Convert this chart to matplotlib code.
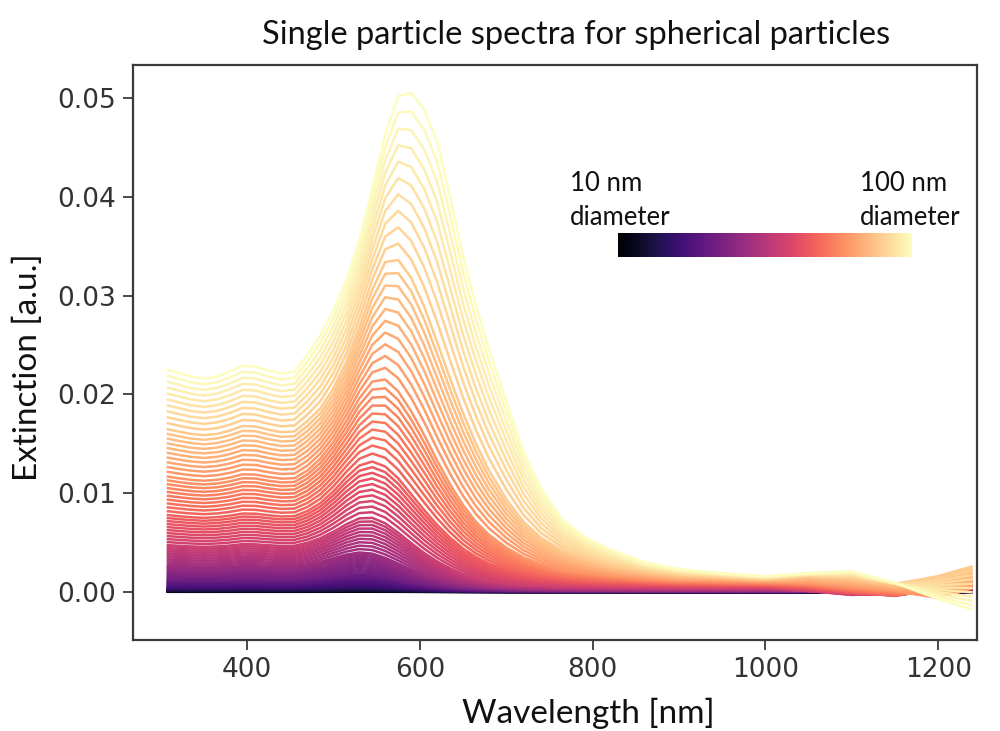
import matplotlib.pyplot as plt
import numpy as np
from matplotlib import cm, colors

plt.rcParams['font.family'] = 'DejaVu Sans'

# wavelengths sampled along each spectrum (nm)
wavelength = [307, 320, 335, 350, 365, 380, 395, 410, 425, 440, 455,
              470, 485, 500, 515, 530, 545, 560, 575, 590, 605,
              620, 635, 650, 665, 680, 700, 720, 740, 765, 790,
              820, 860, 900, 950, 1000, 1050, 1100, 1150, 1200, 1240]

# extinction spectra of the reference diameters, in units of 1e-3
ext_d10 = [0.016, 0.0159, 0.0156, 0.0155, 0.0156, 0.016, 0.0164, 0.0164, 0.016, 0.0158, 0.0159,
           0.0167, 0.018, 0.0199, 0.0217, 0.0227, 0.0214, 0.0186, 0.0151, 0.0118, 0.009,
           0.0067, 0.0051, 0.0038, 0.003, 0.0024, 0.0017, 0.0014, 0.0012, 0.001, 0.0009,
           0.0008, 0.0008, 0.0007, 0.0007, 0.0006, 0.0006, 0.0006, 0.0005, 0.0005, 0.0005]
ext_d20 = [0.14, 0.138, 0.136, 0.135, 0.136, 0.139, 0.143, 0.143, 0.139, 0.137, 0.138,
           0.145, 0.157, 0.173, 0.189, 0.197, 0.186, 0.162, 0.131, 0.103, 0.078,
           0.058, 0.044, 0.033, 0.026, 0.021, 0.015, 0.012, 0.01, 0.009, 0.008,
           0.007, 0.007, 0.006, 0.006, 0.005, 0.005, 0.005, 0.004, 0.004, 0.004]
ext_d30 = [0.52, 0.512, 0.504, 0.5, 0.504, 0.515, 0.528, 0.528, 0.516, 0.508, 0.512,
           0.538, 0.583, 0.64, 0.7, 0.73, 0.69, 0.6, 0.487, 0.38, 0.288,
           0.216, 0.163, 0.121, 0.095, 0.076, 0.057, 0.046, 0.038, 0.033, 0.029,
           0.027, 0.025, 0.023, 0.021, 0.019, 0.018, 0.017, 0.016, 0.015, 0.015]
ext_d40 = [1.31, 1.29, 1.27, 1.26, 1.27, 1.3, 1.33, 1.33, 1.3, 1.28, 1.29,
           1.36, 1.48, 1.64, 1.8, 1.89, 1.8, 1.57, 1.28, 1.0, 0.76,
           0.57, 0.43, 0.32, 0.25, 0.2, 0.15, 0.12, 0.1, 0.088, 0.078,
           0.072, 0.066, 0.06, 0.055, 0.05, 0.05, 0.045, 0.045, 0.04, 0.04]
ext_d50 = [2.67, 2.63, 2.59, 2.57, 2.59, 2.64, 2.72, 2.71, 2.66, 2.62, 2.63,
           2.8, 3.07, 3.42, 3.78, 4.0, 3.88, 3.45, 2.88, 2.3, 1.78,
           1.36, 1.03, 0.79, 0.61, 0.48, 0.37, 0.3, 0.25, 0.22, 0.2,
           0.185, 0.17, 0.16, 0.15, 0.15, 0.12, 0.08, 0.1, 0.15, 0.2]
ext_d60 = [4.75, 4.68, 4.61, 4.57, 4.61, 4.7, 4.84, 4.82, 4.73, 4.66, 4.68,
           4.98, 5.45, 6.1, 6.85, 7.45, 7.5, 6.95, 6.0, 4.95, 3.95,
           3.1, 2.4, 1.85, 1.45, 1.15, 0.9, 0.74, 0.64, 0.56, 0.51,
           0.48, 0.45, 0.43, 0.42, 0.4, 0.1, -0.3, -0.2, 0.4, 0.8]
ext_d70 = [7.8, 7.68, 7.57, 7.5, 7.57, 7.72, 7.94, 7.92, 7.76, 7.64, 7.68,
           8.2, 9.0, 10.2, 11.6, 12.8, 13.2, 12.7, 11.5, 9.9, 8.3,
           6.8, 5.5, 4.4, 3.55, 2.9, 2.3, 1.85, 1.55, 1.3, 1.12,
           1.0, 0.88, 0.8, 0.74, 0.7, 0.5, 0.0, -0.4, 0.3, 1.2]
ext_d80 = [11.7, 11.52, 11.35, 11.26, 11.35, 11.58, 11.91, 11.88, 11.64, 11.47, 11.52,
           12.3, 13.5, 15.2, 17.3, 19.6, 21.3, 21.5, 20.3, 18.3, 15.9,
           13.3, 10.9, 8.8, 7.1, 5.8, 4.5, 3.5, 2.85, 2.3, 1.95,
           1.65, 1.35, 1.15, 1.1, 1.0, 0.9, 0.5, 0.1, -0.6, 0.4]
ext_d90 = [16.5, 16.25, 16.0, 15.87, 16.0, 16.33, 16.8, 16.75, 16.42, 16.17, 16.25,
           17.3, 18.6, 20.6, 23.3, 26.8, 30.6, 33.4, 33.6, 31.8, 28.9,
           25.3, 21.6, 18.1, 15.0, 12.3, 9.4, 7.1, 5.5, 4.2, 3.4,
           2.7, 2.1, 1.7, 1.5, 1.3, 1.6, 1.4, 0.8, 1.6, 2.6]
ext_d100 = [22.5, 22.2, 21.8, 21.6, 21.8, 22.3, 22.9, 22.8, 22.4, 22.1, 22.3,
            24.0, 26.0, 28.5, 31.5, 35.6, 40.8, 46.3, 50.2, 50.5, 48.8,
            45.6, 40.0, 34.0, 29.0, 24.6, 19.3, 14.2, 10.5, 7.3, 5.6,
            4.3, 3.0, 2.3, 1.9, 1.6, 1.9, 2.1, 0.9, -0.7, -1.8]

ref_diameters = [10, 20, 30, 40, 50, 60, 70, 80, 90, 100]
ref_spectra = [ext_d10, ext_d20, ext_d30, ext_d40, ext_d50,
               ext_d60, ext_d70, ext_d80, ext_d90, ext_d100]
diameters = list(range(10, 101))

fig = plt.figure(figsize=(10, 7.31), dpi=100)
ax = fig.add_axes([0.133, 0.1245, 0.844, 0.7866])

cmap = plt.get_cmap('magma')
norm = colors.Normalize(vmin=10, vmax=100)

wl = np.array(wavelength)
spectra = np.array(ref_spectra) * 1e-3
for d in diameters:
    i = min((d - 10) // 10, len(ref_diameters) - 2)
    w = (d - ref_diameters[i]) / 10.0
    ext = (1 - w) * spectra[i] + w * spectra[i + 1]
    ax.plot(wl, ext, color=cmap(norm(d)), lw=1.8, solid_capstyle='butt')

ax.set_xlim(268, 1245)
ax.set_ylim(-0.00486, 0.05334)
ax.set_xticks([400, 600, 800, 1000, 1200])
ax.set_yticks([0.0, 0.01, 0.02, 0.03, 0.04, 0.05])
ax.yaxis.set_major_formatter(plt.FormatStrFormatter('%.2f'))

for s in ax.spines.values():
    s.set_color('#3a3a3a')
    s.set_linewidth(1.6)
ax.tick_params(direction='out', length=7, width=1.3, color='#3a3a3a',
               labelcolor='#333333', labelsize=19, pad=5)

lab_font = 'Lato'
ax.set_title('Single particle spectra for spherical particles', family=lab_font,
             fontsize=23.5, color='#111111', x=0.525, y=1.052, va='center', pad=0)
ax.set_xlabel('Wavelength [nm]', family=lab_font, fontsize=24, color='#111111')
ax.xaxis.set_label_coords(0.539, -0.127)
ax.xaxis.label.set_va('center')
ax.set_ylabel('Extinction [a.u.]', family=lab_font, fontsize=24, color='#111111')
ax.yaxis.set_label_coords(-0.124, 0.475)
ax.yaxis.label.set_va('center')

# size key: gradient bar with end labels
cax = fig.add_axes([0.618, 0.6484, 0.294, 0.0328])
cb = fig.colorbar(cm.ScalarMappable(norm=norm, cmap=cmap), cax=cax,
                  orientation='horizontal')
cb.outline.set_visible(False)
cb.set_ticks([])
fig.text(0.570, 0.7258, '10 nm\ndiameter', family=lab_font, fontsize=18.5,
         color='#111111', ha='left', va='center', linespacing=1.45)
fig.text(0.860, 0.7258, '100 nm\ndiameter', family=lab_font, fontsize=18.5,
         color='#111111', ha='left', va='center', linespacing=1.45)

fig.savefig('out.png', dpi=100)
